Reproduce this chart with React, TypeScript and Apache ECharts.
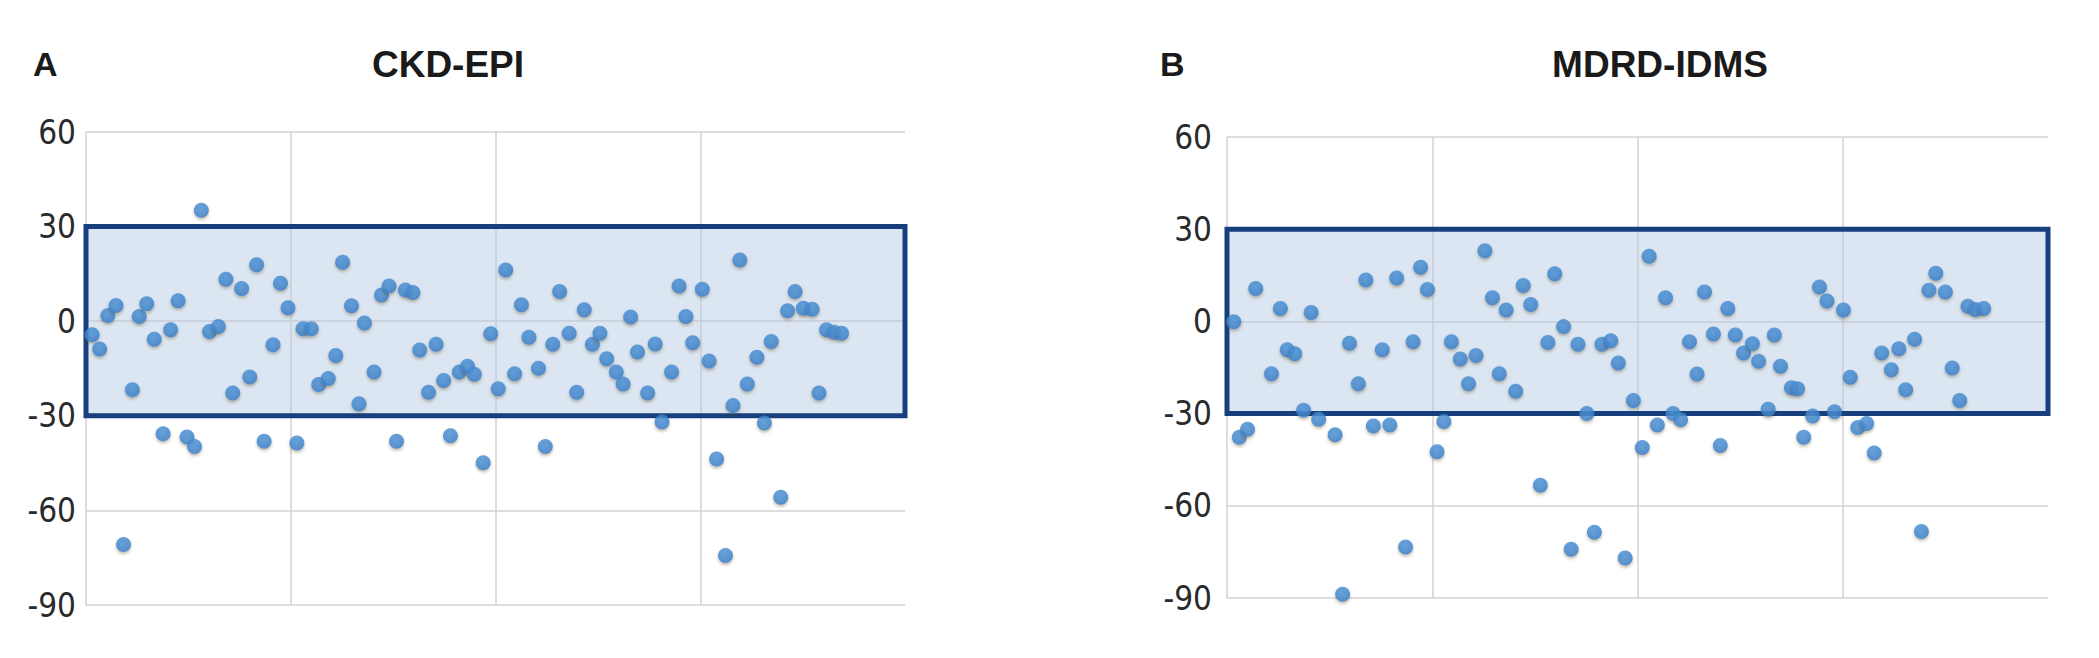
import React, { useEffect, useRef } from "react";
import * as echarts from "echarts";

// Panel titles and letters
const panelLetters = ["A", "B"];
const panelTitles = ["CKD-EPI", "MDRD-IDMS"];

// Y axis ticks
const yMin = -90;
const yMax = 60;
const yStep = 30;
// X axis range (observation index)
const xMin = 0;
const xMax = 120;
const xStep = 30;
// Acceptance band (±30%)
const bandLow = -30;
const bandHigh = 30;

// Panel A – CKD-EPI: [index, bias %]
const ckdEpiPoints: [number, number][] = [
  [0.9, -4.3], [2.0, -8.8], [3.2, 1.8], [4.4, 5.0], [5.5, -70.8], [6.8, -21.7], [7.8, 1.5], [8.9, 5.5],
  [10.0, -5.7], [11.3, -35.7], [12.4, -2.7], [13.5, 6.5], [14.8, -36.7], [15.9, -39.7], [16.9, 35.2],
  [18.1, -3.3], [19.4, -1.7], [20.5, 13.3], [21.5, -22.8], [22.8, 10.4], [24.0, -17.7], [25.0, 17.9],
  [26.1, -38.1], [27.4, -7.5], [28.5, 12.0], [29.6, 4.3], [30.9, -38.6], [31.8, -2.4], [33.0, -2.4],
  [34.1, -20.1], [35.5, -18.2], [36.6, -10.9], [37.6, 18.7], [38.9, 4.9], [40.0, -26.2], [40.8, -0.6],
  [42.2, -16.1], [43.3, 8.3], [44.4, 11.2], [45.5, -38.1], [46.8, 9.9], [47.9, 9.1], [48.9, -9.1],
  [50.2, -22.5], [51.3, -7.3], [52.4, -18.8], [53.4, -36.3], [54.7, -16.1], [55.9, -14.3], [56.9, -16.8],
  [58.2, -44.9], [59.3, -4.0], [60.4, -21.4], [61.5, 16.2], [62.8, -16.7], [63.8, 5.2], [64.9, -5.1],
  [66.3, -14.9], [67.3, -39.7], [68.4, -7.3], [69.4, 9.4], [70.8, -3.8], [71.9, -22.5], [73.0, 3.6],
  [74.2, -7.3], [75.3, -3.8], [76.3, -11.9], [77.7, -16.1], [78.7, -19.9], [79.8, 1.3], [80.8, -9.8],
  [82.3, -22.8], [83.4, -7.2], [84.4, -32.0], [85.8, -16.1], [86.9, 11.2], [87.9, 1.5], [88.9, -6.8],
  [90.3, 10.1], [91.3, -12.6], [92.4, -43.7], [93.7, -74.3], [94.8, -26.7], [95.8, 19.4], [96.9, -19.9],
  [98.3, -11.4], [99.4, -32.3], [100.4, -6.4], [101.8, -55.8], [102.8, 3.3], [103.9, 9.4], [105.1, 4.1],
  [106.4, 3.8], [107.4, -22.8], [108.5, -2.7], [109.6, -3.5], [110.7, -3.8],
];

// Panel B – MDRD-IDMS: [index, bias %]
const mdrdIdmsPoints: [number, number][] = [
  [1.0, -0.1], [1.8, -37.7], [3.0, -35.1], [4.2, 10.7], [6.5, -17.0], [7.8, 4.2], [8.8, -9.2], [9.9, -10.5],
  [11.2, -28.9], [12.3, 2.9], [13.4, -31.8], [15.8, -36.9], [16.9, -88.8], [17.9, -7.1], [19.2, -20.3],
  [20.3, 13.5], [21.4, -34.0], [22.7, -9.2], [23.8, -33.7], [24.8, 14.1], [26.1, -73.4], [27.2, -6.6],
  [28.3, 17.6], [29.3, 10.4], [30.7, -42.4], [31.7, -32.6], [32.8, -6.6], [34.1, -12.2], [35.3, -20.3],
  [36.4, -11.1], [37.7, 23.0], [38.8, 7.7], [39.8, -17.0], [40.8, 3.7], [42.2, -22.7], [43.3, 11.7],
  [44.4, 5.5], [45.8, -53.3], [46.9, -6.9], [47.9, 15.5], [49.2, -1.7], [50.3, -74.1], [51.3, -7.4],
  [52.6, -30.0], [53.7, -68.6], [54.8, -7.4], [56.1, -6.3], [57.2, -13.5], [58.2, -77.0], [59.4, -25.7],
  [60.7, -41.0], [61.7, 21.2], [62.9, -33.7], [64.1, 7.7], [65.2, -30.0], [66.3, -32.0], [67.6, -6.6],
  [68.7, -17.1], [69.8, 9.6], [71.1, -4.1], [72.1, -40.4], [73.2, 4.2], [74.3, -4.4], [75.5, -10.3],
  [76.8, -7.3], [77.7, -13.0], [79.1, -28.6], [80.0, -4.4], [80.9, -14.6], [82.5, -21.6], [83.4, -21.9],
  [84.3, -37.7], [85.6, -30.8], [86.6, 11.2], [87.7, 6.6], [88.8, -29.4], [90.1, 3.7], [91.1, -18.2],
  [92.2, -34.5], [93.5, -33.2], [94.6, -42.8], [95.7, -10.3], [97.1, -15.7], [98.2, -8.9], [99.2, -22.2],
  [100.5, -5.8], [101.5, -68.4], [102.6, 10.1], [103.6, 15.7], [105.0, 9.6], [106.0, -15.2], [107.1, -25.7],
  [108.3, 4.9], [109.4, 3.9], [110.6, 4.2],
];

const GRID_COLOR = "#d6d0d0";
const BOX_BORDER = "#173f7e";
const BOX_FILL = "rgba(176,200,226,0.45)";
const LABEL_FONT = '"Liberation Sans Narrow", "DejaVu Sans Condensed", "Liberation Sans", sans-serif';
const TITLE_FONT = '"Liberation Sans", Arial, sans-serif';

export default function App() {
  const ref = useRef<HTMLDivElement>(null);

  useEffect(() => {
    if (!ref.current) return;
    const chart = echarts.init(ref.current, undefined, { renderer: "svg" });

    const grids = [
      { left: 86, top: 132, width: 819, height: 473 },
      { left: 1227, top: 137, width: 821, height: 461 },
    ];

    const xAxes = grids.map((_, i) => ({
      type: "value" as const,
      gridIndex: i,
      min: xMin,
      max: xMax,
      interval: xStep,
      axisLine: { show: false },
      axisTick: { show: false },
      axisLabel: { show: false },
      splitLine: {
        show: true,
        lineStyle: {
          color: [GRID_COLOR, GRID_COLOR, GRID_COLOR, GRID_COLOR, "rgba(0,0,0,0)"],
          width: 1.5,
        },
      },
    }));

    const yAxes = grids.map((_, i) => ({
      type: "value" as const,
      gridIndex: i,
      min: yMin,
      max: yMax,
      interval: yStep,
      axisLine: { show: false },
      axisTick: { show: false },
      axisLabel: {
        show: true,
        margin: i === 0 ? 10 : 15,
        fontSize: 33,
        fontFamily: LABEL_FONT,
        color: "#2a2a2a",
      },
      splitLine: { show: true, lineStyle: { color: GRID_COLOR, width: 1.5 } },
    }));

    const dotFill = new echarts.graphic.RadialGradient(0.45, 0.4, 0.6, [
      { offset: 0, color: "#4f97dc" },
      { offset: 1, color: "#3680c9" },
    ]);

    const seriesData = [ckdEpiPoints, mdrdIdmsPoints];
    const series = seriesData.map((pts, i) => ({
      type: "scatter" as const,
      xAxisIndex: i,
      yAxisIndex: i,
      data: pts,
      symbol: "circle",
      symbolSize: 15,
      itemStyle: {
        color: dotFill,
        shadowBlur: 3,
        shadowColor: "rgba(90,70,30,0.45)",
        shadowOffsetY: 2,
      },
      z: 5,
      markArea: {
        silent: true,
        itemStyle: {
          color: BOX_FILL,
          borderColor: BOX_BORDER,
          borderWidth: 5,
        },
        label: { show: false },
        data: [[{ xAxis: xMin, yAxis: bandLow }, { xAxis: xMax, yAxis: bandHigh }]],
      },
    }));

    const letterX = [33, 1160];
    const titleX = [448, 1660];
    const graphic = panelTitles.flatMap((t, i) => [
      {
        type: "text" as const,
        x: letterX[i],
        y: 64,
        style: {
          text: panelLetters[i],
          fontSize: 34,
          fontWeight: "bold",
          fontFamily: TITLE_FONT,
          fill: "#1a1a1a",
          align: "left",
          verticalAlign: "middle",
        },
      },
      {
        type: "text" as const,
        x: titleX[i],
        y: 64,
        style: {
          text: t,
          fontSize: 37,
          fontWeight: "bold",
          fontFamily: TITLE_FONT,
          fill: "#1a1a1a",
          align: "center",
          verticalAlign: "middle",
        },
      },
    ]);

    chart.setOption({
      animation: false,
      backgroundColor: "#ffffff",
      grid: grids,
      xAxis: xAxes,
      yAxis: yAxes,
      series,
      graphic,
    });

    return () => chart.dispose();
  }, []);

  return (
    <div
      ref={ref}
      style={{ position: "absolute", left: 0, top: 0, width: 2099, height: 658 }}
    />
  );
}
